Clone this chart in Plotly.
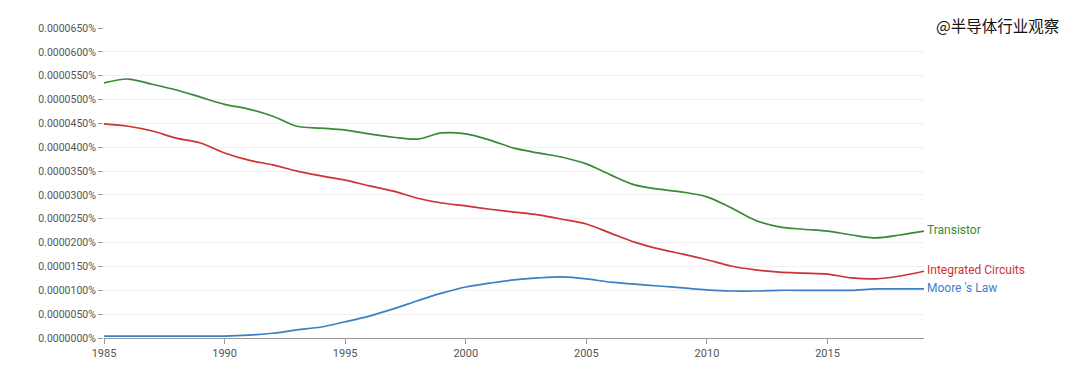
import plotly.graph_objects as go

years = list(range(1985, 2020))
# values in units of 0.0000001 %
transistor = [535, 543, 532, 520, 505, 490, 480, 465, 444, 440, 436, 428, 421, 417, 430, 428, 415,
              398, 388, 379, 365, 342, 321, 312, 306, 296, 273, 247, 233, 228, 224, 216, 210, 216, 224]
integrated = [449, 444, 434, 419, 409, 388, 373, 363, 350, 340, 331, 319, 308, 293, 283, 277, 270,
              264, 258, 249, 239, 220, 201, 187, 176, 164, 151, 143, 138, 136, 134, 126, 124, 130, 140]
moores = [4, 4, 4, 4, 4, 4, 6, 10, 17, 23, 34, 46, 61, 78, 94, 107, 115,
          122, 126, 128, 124, 117, 113, 109, 105, 101, 98.5, 98.5, 100, 100, 100, 100, 103, 103, 103]

series_names = ["Transistor", "Integrated Circuits", "Moore 's Law"]
series_colors = ["#3a8a35", "#cc3333", "#3b7fc4"]
y_ticks = list(range(0, 651, 50))
x_ticks = [1985, 1990, 1995, 2000, 2005, 2010, 2015]

scale = 1e-7
fig = go.Figure()
for name, vals, col in zip(series_names, [transistor, integrated, moores], series_colors):
    fig.add_trace(go.Scatter(x=years, y=[v * scale for v in vals], mode="lines", name=name,
                             line=dict(color=col, width=1.7, shape="spline", smoothing=0.9),
                             showlegend=False))
    fig.add_annotation(x=years[-1], y=vals[-1] * scale, text=name, showarrow=False,
                       xanchor="left", yanchor="middle", xshift=1, yshift=1,
                       font=dict(color=col, size=12, family="Roboto, Arial"))

fig.add_annotation(xref="paper", yref="paper", x=1.0, y=1.0, xshift=10, yshift=3,
                   text="@半导体行业观察", showarrow=False, xanchor="left", yanchor="middle",
                   font=dict(color="#111111", size=15.5, family="Noto Sans CJK SC"))

fig.update_layout(
    width=1080, height=390,
    margin=dict(l=96, r=164, t=20, b=60),
    plot_bgcolor="white", paper_bgcolor="white",
    font=dict(family="Roboto, Arial", size=11, color="#555555"),
    xaxis=dict(range=[1985, 2019], tickvals=x_ticks, ticktext=[str(t) for t in x_ticks],
               showgrid=False, zeroline=False, showline=True, linecolor="#999999", linewidth=1,
               ticks="outside", ticklen=5, tickcolor="#999999", tickfont=dict(size=11, color="#555555")),
    yaxis=dict(range=[0, 650 * scale], tickvals=[t * scale for t in y_ticks],
               ticktext=["0.%07d%%" % t for t in y_ticks],
               showgrid=True, gridcolor="#f0f0f0", zeroline=False, showline=False,
               ticks="outside", ticklen=5, tickcolor="#999999", tickfont=dict(size=10.5, color="#555555")),
)
fig.write_html("out.html")
